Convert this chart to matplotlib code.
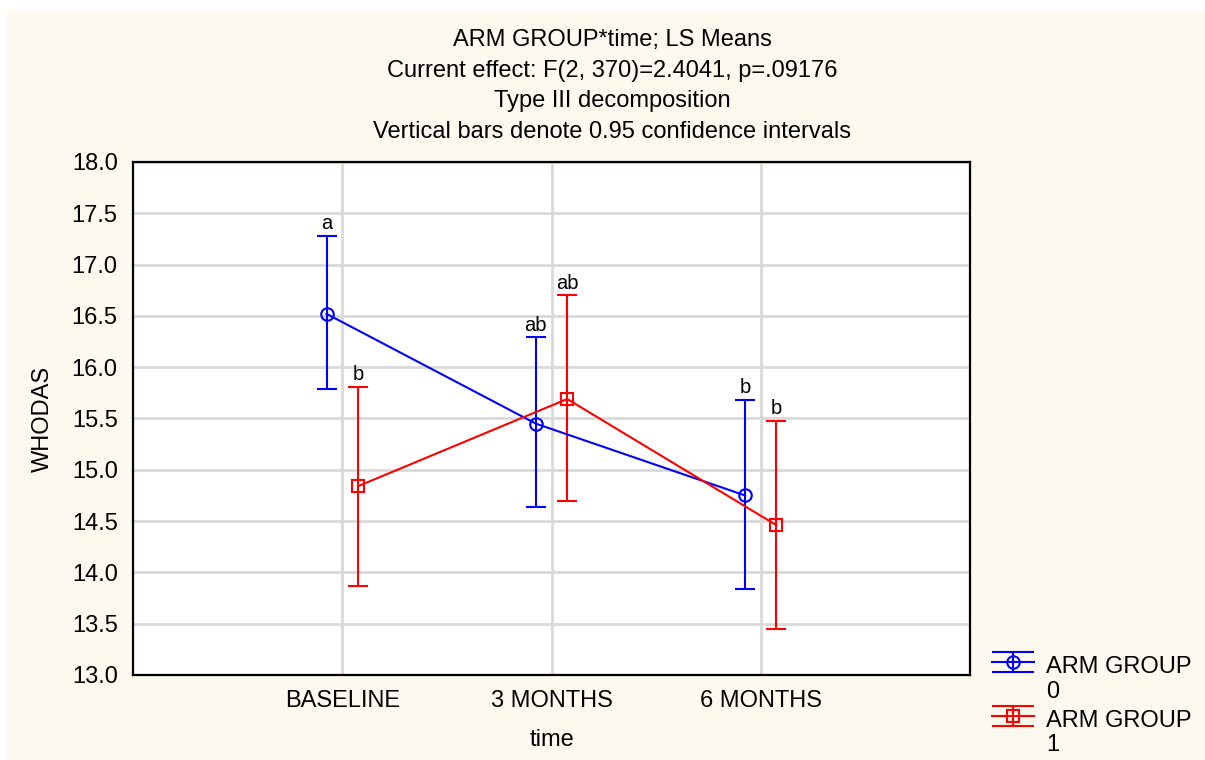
import numpy as np
import matplotlib
matplotlib.use('Agg')
import matplotlib.pyplot as plt
from matplotlib.patches import Rectangle
from matplotlib.ticker import FormatStrFormatter
from matplotlib.legend_handler import HandlerErrorbar

plt.rcParams['font.family'] = ['Liberation Sans', 'DejaVu Sans']

# LS means and 0.95 CI
times = ['BASELINE', '3 MONTHS', '6 MONTHS']

arm0_mean = [16.52, 15.45, 14.75]
arm0_low = [15.79, 14.64, 13.84]
arm0_high = [17.28, 16.29, 15.68]
arm0_letters = ['a', 'ab', 'b']

arm1_mean = [14.84, 15.69, 14.46]
arm1_low = [13.87, 14.70, 13.45]
arm1_high = [15.81, 16.70, 15.48]
arm1_letters = ['b', 'ab', 'b']

title_lines = [
    'ARM GROUP*time; LS Means',
    'Current effect: F(2, 370)=2.4041, p=.09176',
    'Type III decomposition',
    'Vertical bars denote 0.95 confidence intervals',
]

cream = '#FDF9EE'
W, H = 1205, 760
fs = 17

fig = plt.figure(figsize=(W / 100, H / 100), dpi=100, facecolor='white')
fig.add_artist(Rectangle((7 / W, 0), 1, 1 - 10 / H, transform=fig.transFigure,
                         facecolor=cream, edgecolor='none', zorder=-10))

ax = fig.add_axes([133 / W, 1 - 675 / H, (970 - 133) / W, (675 - 162) / H])
ax.set_facecolor('white')

x = np.arange(1, len(times) + 1)
off = 0.075

series = [
    (arm0_mean, arm0_low, arm0_high, arm0_letters, '#0000FF', 'o', -off, 'ARM GROUP\n0'),
    (arm1_mean, arm1_low, arm1_high, arm1_letters, '#FF0000', 's', off, 'ARM GROUP\n1'),
]

handles = []
for mean, low, high, letters, col, mk, dx, lab in series:
    mean = np.array(mean)
    err = [mean - np.array(low), np.array(high) - mean]
    h = ax.errorbar(x + dx, mean, yerr=err, color=col, marker=mk, mfc='none',
                    ms=9 if mk == 'o' else 8.5, mew=1.5, lw=1.5, elinewidth=1.5,
                    capsize=7.5, capthick=1.5, label=lab, zorder=3)
    handles.append(h)
    for xi, hi, let in zip(x + dx, high, letters):
        ax.annotate(let, (xi, hi), xytext=(0, 2), textcoords='offset points',
                    ha='center', va='bottom', fontsize=14.5)

ax.set_xlim(0, 4)
ax.set_ylim(13, 18)
ax.set_xticks(x)
ax.set_xticklabels(times)
ax.set_yticks(np.arange(13, 18.01, 0.5))
ax.yaxis.set_major_formatter(FormatStrFormatter('%.1f'))
ax.grid(True, color='#D9D9D9', lw=2)
ax.set_axisbelow(True)
ax.tick_params(length=0, pad=11, labelsize=fs)
for s in ax.spines.values():
    s.set_linewidth(1.6)
    s.set_color('black')

ax.set_xlabel('time', fontsize=fs)
ax.set_ylabel('WHODAS', fontsize=fs)
ax.xaxis.set_label_coords(0.5, -0.106)
ax.yaxis.set_label_coords(-0.094, 0.5)

fig.text(612 / W, 1 - 86 / H, '\n'.join(title_lines), ha='center', va='center',
         fontsize=fs, linespacing=1.52)


# legend caps as wide as the handle line
def wide_caps(leg_h, orig):
    leg_h.update_from(orig)
    if hasattr(leg_h, 'get_marker') and leg_h.get_marker() == '_':
        leg_h.set_markersize(30)


class TopErrorbar(HandlerErrorbar):
    # put the handle level with the first text line
    def create_artists(self, legend, orig_handle, xdescent, ydescent,
                       width, height, fontsize, trans):
        return super().create_artists(legend, orig_handle, xdescent, ydescent - 25,
                                      width, height, fontsize, trans)


hmap = {h: TopErrorbar(yerr_size=0.43, update_func=wide_caps) for h in handles}
leg = fig.legend(handles=handles, loc='upper left', bbox_to_anchor=(992 / W, 1 - 656 / H),
                 frameon=False, fontsize=fs, handlelength=1.78, handletextpad=0.5,
                 labelspacing=0.3, borderaxespad=0, borderpad=0, handler_map=hmap)
for t in leg.get_texts():
    t.set_linespacing(1.15)

fig.savefig('out.png', dpi=100, facecolor=fig.get_facecolor())
